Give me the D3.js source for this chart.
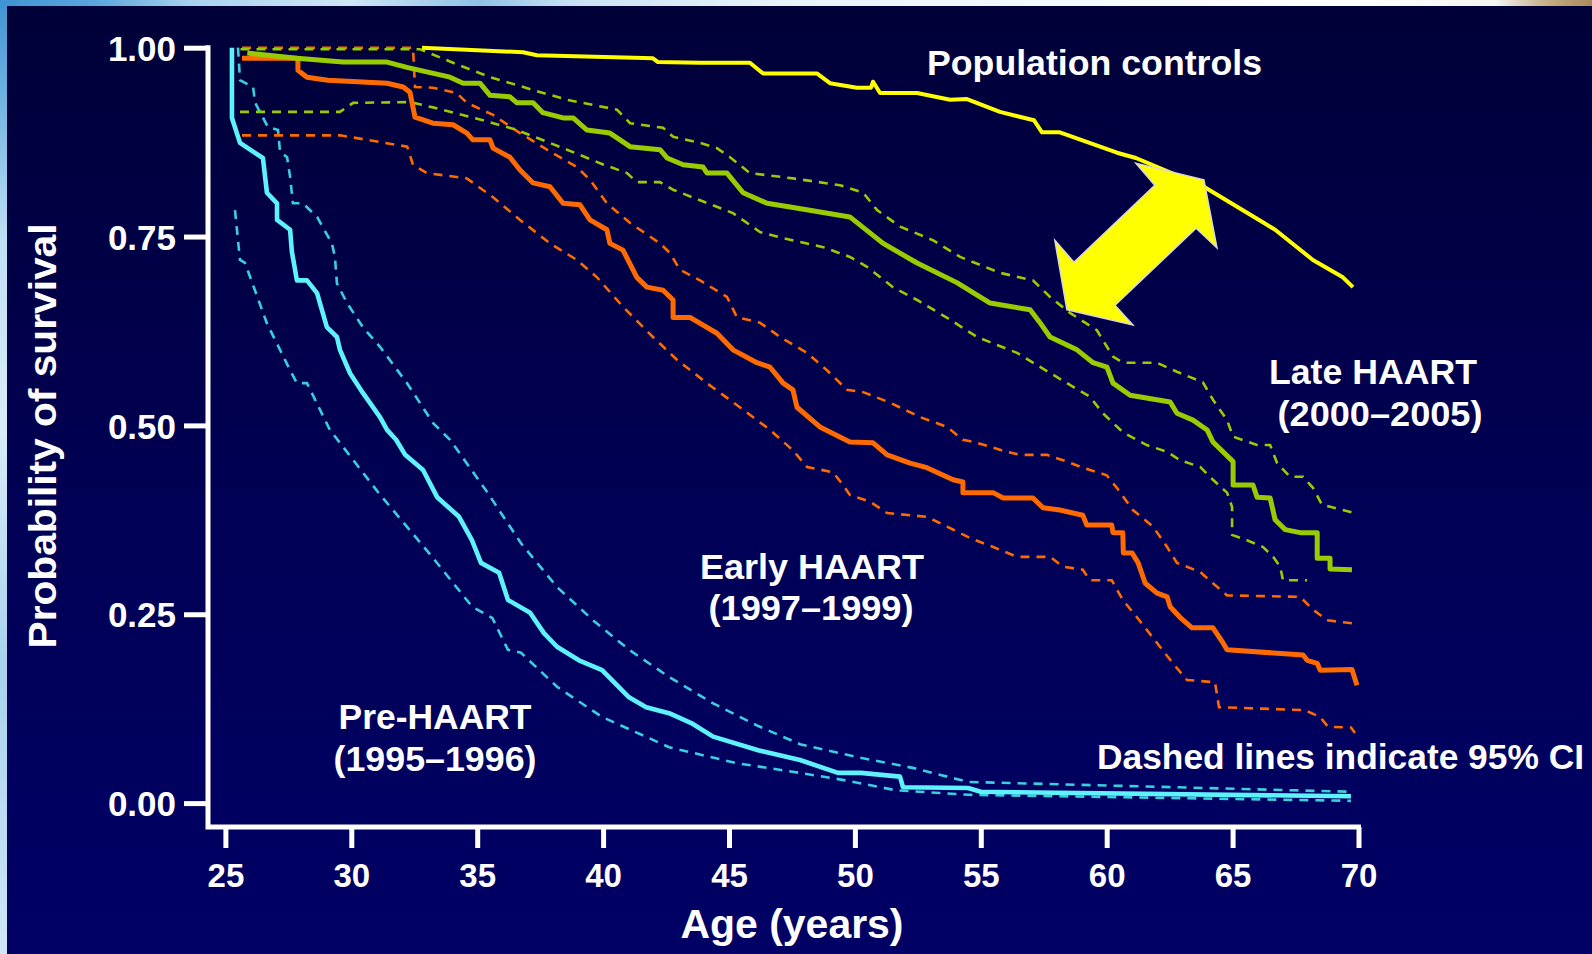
<!DOCTYPE html>
<html>
<head>
<meta charset="utf-8">
<script src="https://cdn.jsdelivr.net/npm/d3@7"></script>
<style>
  html, body { margin: 0; padding: 0; background: #ffffff; }
  svg { display: block; }
  text { font-family: "Liberation Sans", Arial, Helvetica, sans-serif; font-weight: bold; fill: #ffffff; }
</style>
</head>
<body>
<svg id="chart" width="1592" height="954"></svg>
<script>
// ---------------- data (age in years, probability of survival) ----------------
const xTicks = [25, 30, 35, 40, 45, 50, 55, 60, 65, 70];
const yTicks = [0, 0.25, 0.5, 0.75, 1];
const yTickLabels = ["0.00", "0.25", "0.50", "0.75", "1.00"];

const popControls = [[32.81,1.000],[36.82,0.994],[37.37,0.990],[41.98,0.986],[42.18,0.981],[43.85,0.980],[45.83,0.980],[46.35,0.966],[48.49,0.966],[49.01,0.953],[50.08,0.947],[50.64,0.947],[50.72,0.955],[51.0,0.940],[52.47,0.940],[53.78,0.931],[54.45,0.932],[55.76,0.915],[57.11,0.904],[57.43,0.888],[58.14,0.888],[60.41,0.861],[61.16,0.854],[63.86,0.816],[66.25,0.768],[66.69,0.759],[68.19,0.719],[69.38,0.696],[69.78,0.683]];

const preMain = [[25.26,1.000],[25.26,0.907],[25.58,0.874],[25.98,0.865],[26.49,0.854],[26.65,0.808],[27.05,0.794],[27.05,0.772],[27.57,0.759],[27.64,0.730],[27.84,0.692],[28.24,0.692],[28.64,0.675],[29.03,0.630],[29.43,0.617],[29.55,0.600],[29.95,0.569],[30.46,0.543],[31.14,0.511],[31.42,0.494],[31.78,0.481],[32.14,0.461],[32.85,0.441],[33.41,0.405],[34.28,0.379],[34.79,0.348],[35.15,0.318],[35.87,0.305],[36.22,0.269],[37.10,0.252],[37.65,0.225],[38.17,0.207],[39.04,0.189],[39.96,0.176],[41.03,0.140],[41.71,0.127],[42.62,0.119],[43.50,0.106],[44.37,0.088],[46.16,0.070],[47.82,0.057],[49.33,0.040],[50.24,0.040],[51.79,0.035],[51.91,0.021],[54.49,0.020],[55.0,0.015],[69.7,0.009]];
const preUpper = [[25.5,1.000],[25.58,0.957],[26.1,0.948],[26.18,0.927],[26.69,0.895],[27.09,0.891],[27.17,0.862],[27.45,0.855],[27.57,0.829],[27.68,0.794],[28.08,0.794],[28.64,0.776],[29.23,0.741],[29.35,0.723],[29.43,0.688],[29.83,0.662],[30.46,0.630],[31.14,0.604],[32.21,0.556],[33.25,0.503],[33.92,0.481],[35.35,0.414],[36.74,0.344],[38.17,0.286],[39.6,0.242],[41.03,0.203],[42.62,0.167],[44.37,0.132],[46.16,0.102],[47.82,0.078],[50.08,0.061],[52.39,0.046],[54.49,0.028],[69.7,0.015]];
const preLower = [[25.38,0.785],[25.58,0.719],[25.78,0.715],[26.65,0.635],[27.57,0.573],[27.84,0.556],[28.24,0.556],[29.15,0.494],[31.1,0.410],[33.21,0.326],[34.8,0.260],[35.6,0.245],[36.22,0.203],[36.74,0.199],[38.17,0.154],[39.96,0.114],[42.62,0.074],[45.28,0.053],[47.82,0.040],[49.65,0.030],[51.63,0.017],[54.49,0.011],[69.7,0.003]];

const earlyMain = [[25.66,0.986],[27.88,0.986],[27.88,0.970],[28.24,0.961],[29.07,0.957],[31.42,0.953],[32.06,0.948],[32.33,0.941],[32.53,0.908],[33.24,0.900],[34.04,0.898],[34.59,0.887],[34.83,0.878],[35.51,0.878],[35.63,0.867],[36.30,0.855],[36.70,0.838],[37.22,0.821],[37.89,0.816],[38.41,0.794],[39.08,0.792],[39.48,0.772],[40.15,0.759],[40.27,0.741],[40.79,0.732],[41.34,0.696],[41.74,0.683],[42.38,0.679],[42.78,0.666],[42.78,0.643],[43.45,0.643],[44.52,0.622],[45.16,0.600],[46.11,0.583],[46.63,0.577],[47.15,0.556],[47.54,0.547],[47.70,0.524],[48.61,0.498],[49.80,0.478],[50.72,0.477],[51.28,0.461],[52.19,0.450],[52.86,0.444],[53.90,0.428],[54.29,0.425],[54.29,0.411],[55.49,0.411],[55.89,0.404],[57.07,0.404],[57.47,0.391],[58.14,0.388],[59.05,0.381],[59.21,0.368],[60.2,0.368],[60.25,0.358],[60.64,0.358],[60.66,0.331],[61.01,0.331],[61.25,0.318],[61.53,0.291],[62.0,0.278],[62.4,0.273],[62.52,0.260],[62.91,0.246],[63.39,0.232],[64.22,0.232],[64.62,0.212],[64.78,0.203],[67.80,0.196],[67.96,0.189],[68.36,0.185],[68.48,0.176],[69.74,0.177],[69.94,0.156]];
const earlyUpper = [[25.66,1.0],[32.45,1.0],[32.53,0.948],[33.24,0.947],[34.19,0.940],[34.59,0.927],[35.63,0.911],[36.70,0.887],[37.77,0.865],[38.96,0.842],[39.48,0.825],[40.15,0.794],[41.07,0.768],[42.26,0.741],[42.66,0.728],[43.05,0.706],[43.85,0.692],[44.92,0.670],[45.32,0.643],[46.23,0.636],[47.03,0.617],[48.10,0.596],[48.89,0.573],[49.69,0.547],[50.33,0.544],[51.40,0.530],[52.59,0.511],[53.66,0.498],[54.29,0.481],[54.85,0.477],[56.04,0.465],[56.56,0.461],[57.63,0.461],[58.26,0.454],[59.05,0.444],[60.0,0.434],[60.41,0.417],[61.04,0.388],[61.84,0.366],[62.40,0.339],[62.79,0.318],[63.71,0.306],[64.22,0.291],[64.78,0.275],[67.68,0.273],[68.2,0.256],[68.75,0.242],[69.74,0.238]];
const earlyLower = [[25.66,0.884],[29.56,0.884],[32.22,0.869],[32.45,0.845],[33.0,0.834],[34.59,0.827],[35.63,0.802],[36.70,0.772],[37.89,0.741],[38.96,0.719],[39.76,0.696],[40.79,0.657],[41.98,0.617],[42.93,0.587],[44.12,0.556],[45.43,0.524],[46.63,0.494],[47.54,0.467],[48.10,0.445],[49.13,0.438],[49.53,0.421],[49.80,0.408],[50.60,0.399],[51.28,0.384],[52.86,0.379],[53.66,0.366],[54.57,0.351],[55.49,0.339],[56.44,0.326],[57.75,0.326],[58.26,0.313],[59.05,0.309],[59.33,0.295],[60.20,0.295],[60.64,0.269],[61.20,0.246],[62.0,0.212],[62.63,0.185],[63.19,0.163],[64.3,0.160],[64.46,0.127],[67.87,0.123],[68.47,0.114],[68.79,0.101],[69.70,0.100],[69.86,0.093]];

const lateMain = [[25.87,0.993],[27.84,0.986],[29.67,0.981],[31.42,0.981],[32.21,0.974],[33.92,0.961],[34.44,0.953],[35.11,0.953],[35.51,0.937],[36.30,0.935],[36.58,0.927],[37.22,0.927],[37.61,0.914],[38.41,0.907],[38.81,0.907],[39.36,0.891],[40.27,0.887],[41.07,0.869],[42.26,0.865],[42.54,0.854],[43.18,0.845],[43.97,0.842],[44.13,0.834],[44.92,0.834],[45.56,0.808],[46.51,0.794],[47.43,0.789],[49.80,0.776],[51.12,0.741],[52.47,0.715],[54.05,0.689],[55.37,0.662],[56.96,0.653],[57.35,0.636],[57.75,0.617],[58.82,0.600],[59.46,0.583],[60.01,0.577],[60.25,0.556],[60.93,0.540],[62.52,0.531],[62.79,0.516],[63.43,0.507],[63.99,0.494],[64.22,0.478],[65.02,0.452],[65.02,0.421],[65.81,0.421],[65.97,0.405],[66.49,0.404],[66.69,0.375],[67.09,0.362],[67.68,0.358],[68.36,0.358],[68.36,0.324],[68.87,0.324],[68.87,0.310],[69.74,0.309]];
const lateUpper = [[25.6,0.998],[32.73,0.998],[34.04,0.980],[35.51,0.961],[37.22,0.944],[38.57,0.931],[40.55,0.918],[41.07,0.900],[42.38,0.894],[42.78,0.882],[43.85,0.874],[44.52,0.867],[45.04,0.855],[45.83,0.834],[47.54,0.827],[49.41,0.818],[50.33,0.808],[50.88,0.785],[51.80,0.763],[53.11,0.745],[54.18,0.723],[55.76,0.702],[57.07,0.692],[57.75,0.670],[58.54,0.649],[59.61,0.626],[60.25,0.591],[60.64,0.583],[61.99,0.583],[62.79,0.571],[63.82,0.557],[64.22,0.534],[64.78,0.507],[65.02,0.485],[65.97,0.474],[66.49,0.474],[66.77,0.450],[67.28,0.432],[67.80,0.432],[68.20,0.417],[68.55,0.395],[69.74,0.385]];
const lateLower = [[25.58,0.915],[29.55,0.915],[30.07,0.927],[32.33,0.928],[33.24,0.921],[35.23,0.904],[36.58,0.891],[38.57,0.865],[39.88,0.847],[40.95,0.834],[41.34,0.822],[42.26,0.822],[42.78,0.812],[43.85,0.798],[45.16,0.781],[46.23,0.756],[47.15,0.748],[48.74,0.736],[49.80,0.723],[50.48,0.710],[51.51,0.683],[52.47,0.666],[53.78,0.640],[54.85,0.617],[56.44,0.596],[57.07,0.583],[58.42,0.556],[59.33,0.538],[59.85,0.516],[60.64,0.491],[61.59,0.474],[62.40,0.465],[62.91,0.454],[63.71,0.445],[64.22,0.428],[64.78,0.411],[64.98,0.392],[64.98,0.355],[65.57,0.348],[66.21,0.339],[66.61,0.326],[66.89,0.313],[67.0,0.295],[67.96,0.295]];

// double-headed annotation arrow between population controls and Late HAART (data coordinates)
const gapArrow = [[58.42,0.653],[61.04,0.633],[60.33,0.659],[63.55,0.761],[64.38,0.735],[63.86,0.825],[61.16,0.847],[61.91,0.818],[58.70,0.716],[57.94,0.745]];

// ---------------- drawing ----------------
const W = 1592, H = 954;
const svg = d3.select("#chart");
const defs = svg.append("defs");

const bgGrad = defs.append("linearGradient").attr("id", "navy").attr("x1", 0).attr("y1", 0).attr("x2", 0).attr("y2", 1);
bgGrad.append("stop").attr("offset", "0%").attr("stop-color", "#000038");
bgGrad.append("stop").attr("offset", "55%").attr("stop-color", "#000056");
bgGrad.append("stop").attr("offset", "100%").attr("stop-color", "#000066");

const topGrad = defs.append("linearGradient").attr("id", "topStrip").attr("x1", 0).attr("y1", 0).attr("x2", 1).attr("y2", 0);
[["0%", "#3f93d4"], ["6%", "#5aa6dc"], ["12%", "#a9d2f0"], ["22%", "#cfe6f6"], ["30%", "#8fc2e6"], ["36%", "#c9e3f5"], ["50%", "#eaf4fb"], ["85%", "#ffffff"], ["94%", "#f4f4f0"], ["97%", "#c8b08a"], ["100%", "#a88a5c"]]
  .forEach(([o, c]) => topGrad.append("stop").attr("offset", o).attr("stop-color", c));
const leftGrad = defs.append("linearGradient").attr("id", "leftStrip").attr("x1", 0).attr("y1", 0).attr("x2", 0).attr("y2", 1);
[["0%", "#3f93d4"], ["10%", "#6fb2e2"], ["25%", "#bfe0f5"], ["45%", "#d8ecf8"], ["70%", "#a8d2ef"], ["100%", "#cfe6f6"]]
  .forEach(([o, c]) => leftGrad.append("stop").attr("offset", o).attr("stop-color", c));

svg.append("rect").attr("x", 0).attr("y", 0).attr("width", W).attr("height", H).attr("fill", "url(#leftStrip)");
svg.append("rect").attr("x", 0).attr("y", 0).attr("width", W).attr("height", 8).attr("fill", "url(#topStrip)");
svg.append("rect").attr("x", 7).attr("y", 6).attr("width", W - 7).attr("height", H - 6).attr("fill", "url(#navy)");

const x = d3.scaleLinear().domain([25, 70]).range([225.4, 1358.5]);
const y = d3.scaleLinear().domain([0, 1]).range([803.1, 47.7]);
const xAxisY = 827, yAxisX = 208;

// axes
const gx = svg.append("g").attr("transform", `translate(0,${xAxisY})`)
  .call(d3.axisBottom(x).tickValues(xTicks).tickFormat(d3.format("d")).tickSize(21).tickPadding(16).tickSizeOuter(0));
gx.select(".domain").remove();
gx.selectAll(".tick line").attr("stroke", "#ffffff").attr("stroke-width", 5);
gx.selectAll(".tick text").attr("fill", "#ffffff").style("font-size", "33px").style("font-family", "'Liberation Sans', Arial, sans-serif").style("font-weight", "bold");

const gy = svg.append("g").attr("transform", `translate(${yAxisX},0)`)
  .call(d3.axisLeft(y).tickValues(yTicks).tickFormat((d, i) => yTickLabels[i]).tickSize(24).tickPadding(8).tickSizeOuter(0));
gy.select(".domain").remove();
gy.selectAll(".tick line").attr("stroke", "#ffffff").attr("stroke-width", 5);
gy.selectAll(".tick text").attr("fill", "#ffffff").attr("dy", "0.36em").style("font-size", "35px").style("font-family", "'Liberation Sans', Arial, sans-serif").style("font-weight", "bold");

svg.append("path")
  .attr("d", `M${yAxisX},${y(1) - 2.5}V${xAxisY}H${x(70) + 2.5}`)
  .attr("fill", "none").attr("stroke", "#ffffff").attr("stroke-width", 5).attr("stroke-linejoin", "miter");

// curves
const line = d3.line().x(d => x(d[0])).y(d => y(d[1])).curve(d3.curveLinear);
const plot = svg.append("g");
function dashed(data, color) {
  plot.append("path").datum(data).attr("d", line).attr("fill", "none")
    .attr("stroke", color).attr("stroke-width", 2.6).attr("stroke-dasharray", "9,7");
}
function solid(data, color, w) {
  plot.append("path").datum(data).attr("d", line).attr("fill", "none")
    .attr("stroke", color).attr("stroke-width", w).attr("stroke-linejoin", "round");
}
const cyan = "#5ef2ff", cyanDash = "#39d0de", orange = "#ff6a00", green = "#99cc00", yellow = "#ffff00";

dashed(preUpper, cyanDash);
dashed(preLower, cyanDash);
dashed(earlyUpper, orange);
dashed(earlyLower, orange);
dashed(lateUpper, green);
dashed(lateLower, green);
solid(preMain, cyan, 4.6);
solid(earlyMain, orange, 5);
solid(lateMain, green, 5);
solid(popControls, yellow, 4);

// arrow annotation
svg.append("path").datum(gapArrow)
  .attr("d", d3.line().x(d => x(d[0])).y(d => y(d[1]))(gapArrow) + "Z")
  .attr("fill", "#ffff00").attr("stroke", "#d8d8d8").attr("stroke-width", 1.5).attr("stroke-linejoin", "miter");

// labels
function label(txt, cx, base, size, len, anchor) {
  const t = svg.append("text").attr("x", cx).attr("y", base).attr("text-anchor", anchor || "middle")
    .style("font-size", size + "px").text(txt);
  if (len) t.attr("textLength", len).attr("lengthAdjust", "spacingAndGlyphs");
  return t;
}
label("Population controls", 927, 75, 35, 335, "start");
label("Late HAART", 1373, 384, 35, 208);
label("(2000\u20132005)", 1380, 426, 35, 205);
label("Early HAART", 812, 579, 35, 224);
label("(1997\u20131999)", 811, 620, 35, 205);
label("Pre-HAART", 435, 729, 35, 193);
label("(1995\u20131996)", 435, 771, 35, 203);
label("Dashed lines indicate 95% CI", 1097, 769, 35, 487, "start");
label("Age (years)", 792, 938, 40, 223);
svg.append("text").attr("transform", "translate(56,436) rotate(-90)").attr("text-anchor", "middle")
  .style("font-size", "38px").attr("textLength", 425).attr("lengthAdjust", "spacingAndGlyphs")
  .text("Probability of survival");
</script>
</body>
</html>
